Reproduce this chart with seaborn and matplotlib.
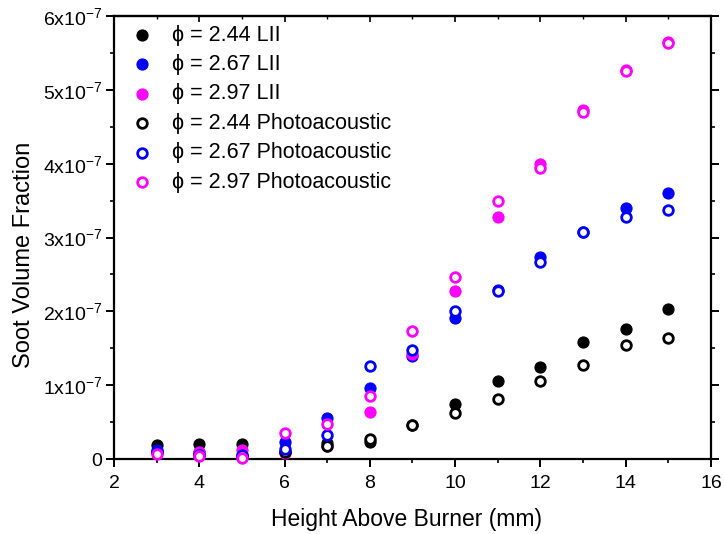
import numpy as np
import pandas as pd
import matplotlib
matplotlib.use("Agg")
import matplotlib.pyplot as plt
from matplotlib.ticker import MultipleLocator, FixedLocator
import seaborn as sns

# ---- data (values in units of 1e-7) ----
height = [3, 4, 5, 6, 7, 8, 9, 10, 11, 12, 13, 14, 15]
lii_244 = [0.19, 0.20, 0.20, 0.10, 0.21, 0.235, 0.46, 0.745, 1.05, 1.24, 1.59, 1.765, 2.03]
lii_267 = [0.12, 0.10, 0.06, 0.235, 0.56, 0.96, 1.39, 1.91, 2.29, 2.73, 3.08, 3.40, 3.60]
lii_297 = [0.10, 0.10, 0.12, 0.08, 0.17, 0.64, 1.42, 2.28, 3.28, 4.00, 4.73, 5.27, 5.65]
pa_244 = [0.10, 0.05, 0.03, 0.10, 0.18, 0.27, 0.46, 0.62, 0.81, 1.06, 1.27, 1.55, 1.635]
pa_267 = [0.10, 0.06, 0.05, 0.135, 0.32, 1.26, 1.47, 2.00, 2.27, 2.67, 3.08, 3.28, 3.37]
pa_297 = [0.07, 0.04, 0.02, 0.35, 0.47, 0.85, 1.73, 2.46, 3.50, 3.94, 4.70, 5.255, 5.64]

labels = ["ϕ = 2.44 LII", "ϕ = 2.67 LII", "ϕ = 2.97 LII",
          "ϕ = 2.44 Photoacoustic", "ϕ = 2.67 Photoacoustic", "ϕ = 2.97 Photoacoustic"]
colors = ["#000000", "#0000FF", "#FF00FF", "#000000", "#0000FF", "#FF00FF"]
series = [lii_244, lii_267, lii_297, pa_244, pa_267, pa_297]
filled = [True, True, True, False, False, False]

sns.set_theme(style="white")
plt.rcParams["font.family"] = ["Liberation Sans", "DejaVu Sans"]
plt.rcParams["mathtext.fontset"] = "custom"
plt.rcParams["mathtext.rm"] = "Liberation Sans"
plt.rcParams["mathtext.default"] = "regular"
plt.rcParams["text.color"] = "black"
plt.rcParams["axes.labelcolor"] = "black"
plt.rcParams["xtick.color"] = "black"
plt.rcParams["ytick.color"] = "black"

fig = plt.figure(figsize=(7.24, 5.34), dpi=100)
ax = fig.add_axes([114/724, 1-459/534, (711-114)/724, (459-16)/534])

for lab, col, vals, fil in zip(labels, colors, series, filled):
    df = pd.DataFrame({"h": height, "f": np.array(vals) * 1e-7})
    if fil:
        sns.scatterplot(data=df, x="h", y="f", ax=ax, s=64, color=col,
                        edgecolor=col, linewidth=0.8, label=lab, clip_on=False, zorder=3)
    else:
        sns.scatterplot(data=df, x="h", y="f", ax=ax, s=48, facecolor="white",
                        edgecolor=col, linewidth=2.0, label=lab, clip_on=False, zorder=4)

ax.set_xlim(2, 16)
ax.set_ylim(0, 6e-7)
ax.xaxis.set_major_locator(MultipleLocator(2))
ax.xaxis.set_minor_locator(MultipleLocator(1))
yt = [i * 1e-7 for i in range(7)]
ax.yaxis.set_major_locator(FixedLocator(yt))
ax.yaxis.set_minor_locator(MultipleLocator(0.5e-7))
ax.set_yticklabels(["0"] + [f"{i}x10$^{{-7}}$" for i in range(1, 7)])

for sp in ax.spines.values():
    sp.set_visible(True)
    sp.set_color("black")
    sp.set_linewidth(1.6)

ax.tick_params(axis="both", which="major", direction="out", length=5.5, width=1.4,
               labelsize=14, colors="black", pad=6,
               bottom=True, left=True, right=True, top=False)
ax.tick_params(axis="both", which="minor", direction="out", length=3, width=1.2,
               bottom=True, left=True, right=True, top=False)
ax.tick_params(axis="y", which="both", labelright=False, pad=3)

sec = ax.secondary_xaxis("top")
sec.xaxis.set_major_locator(MultipleLocator(2))
sec.xaxis.set_minor_locator(MultipleLocator(1))
sec.tick_params(which="major", direction="in", length=4, width=1.2, labeltop=False)
sec.tick_params(which="minor", direction="in", length=2.5, width=1.0)
sec.spines["top"].set_linewidth(1.6)

ax.set_xlabel("Height Above Burner (mm)", fontsize=16.5, color="black")
ax.set_ylabel("Soot Volume Fraction", fontsize=17, color="black")
ax.xaxis.set_label_coords((406.5 - 114) / 597, (459 - 508) / 443)
ax.yaxis.set_label_coords((35 - 114) / 597, 1 - (254.5 - 16) / 443)

leg = ax.legend(loc="upper left", frameon=False, fontsize=15.5, handletextpad=0.8,
                labelspacing=0.39, borderaxespad=0.0, borderpad=0.4, handlelength=1.2,
                bbox_to_anchor=(0.011, 1.0))
for t in leg.get_texts():
    t.set_color("black")

fig.savefig("out.png", dpi=100)
